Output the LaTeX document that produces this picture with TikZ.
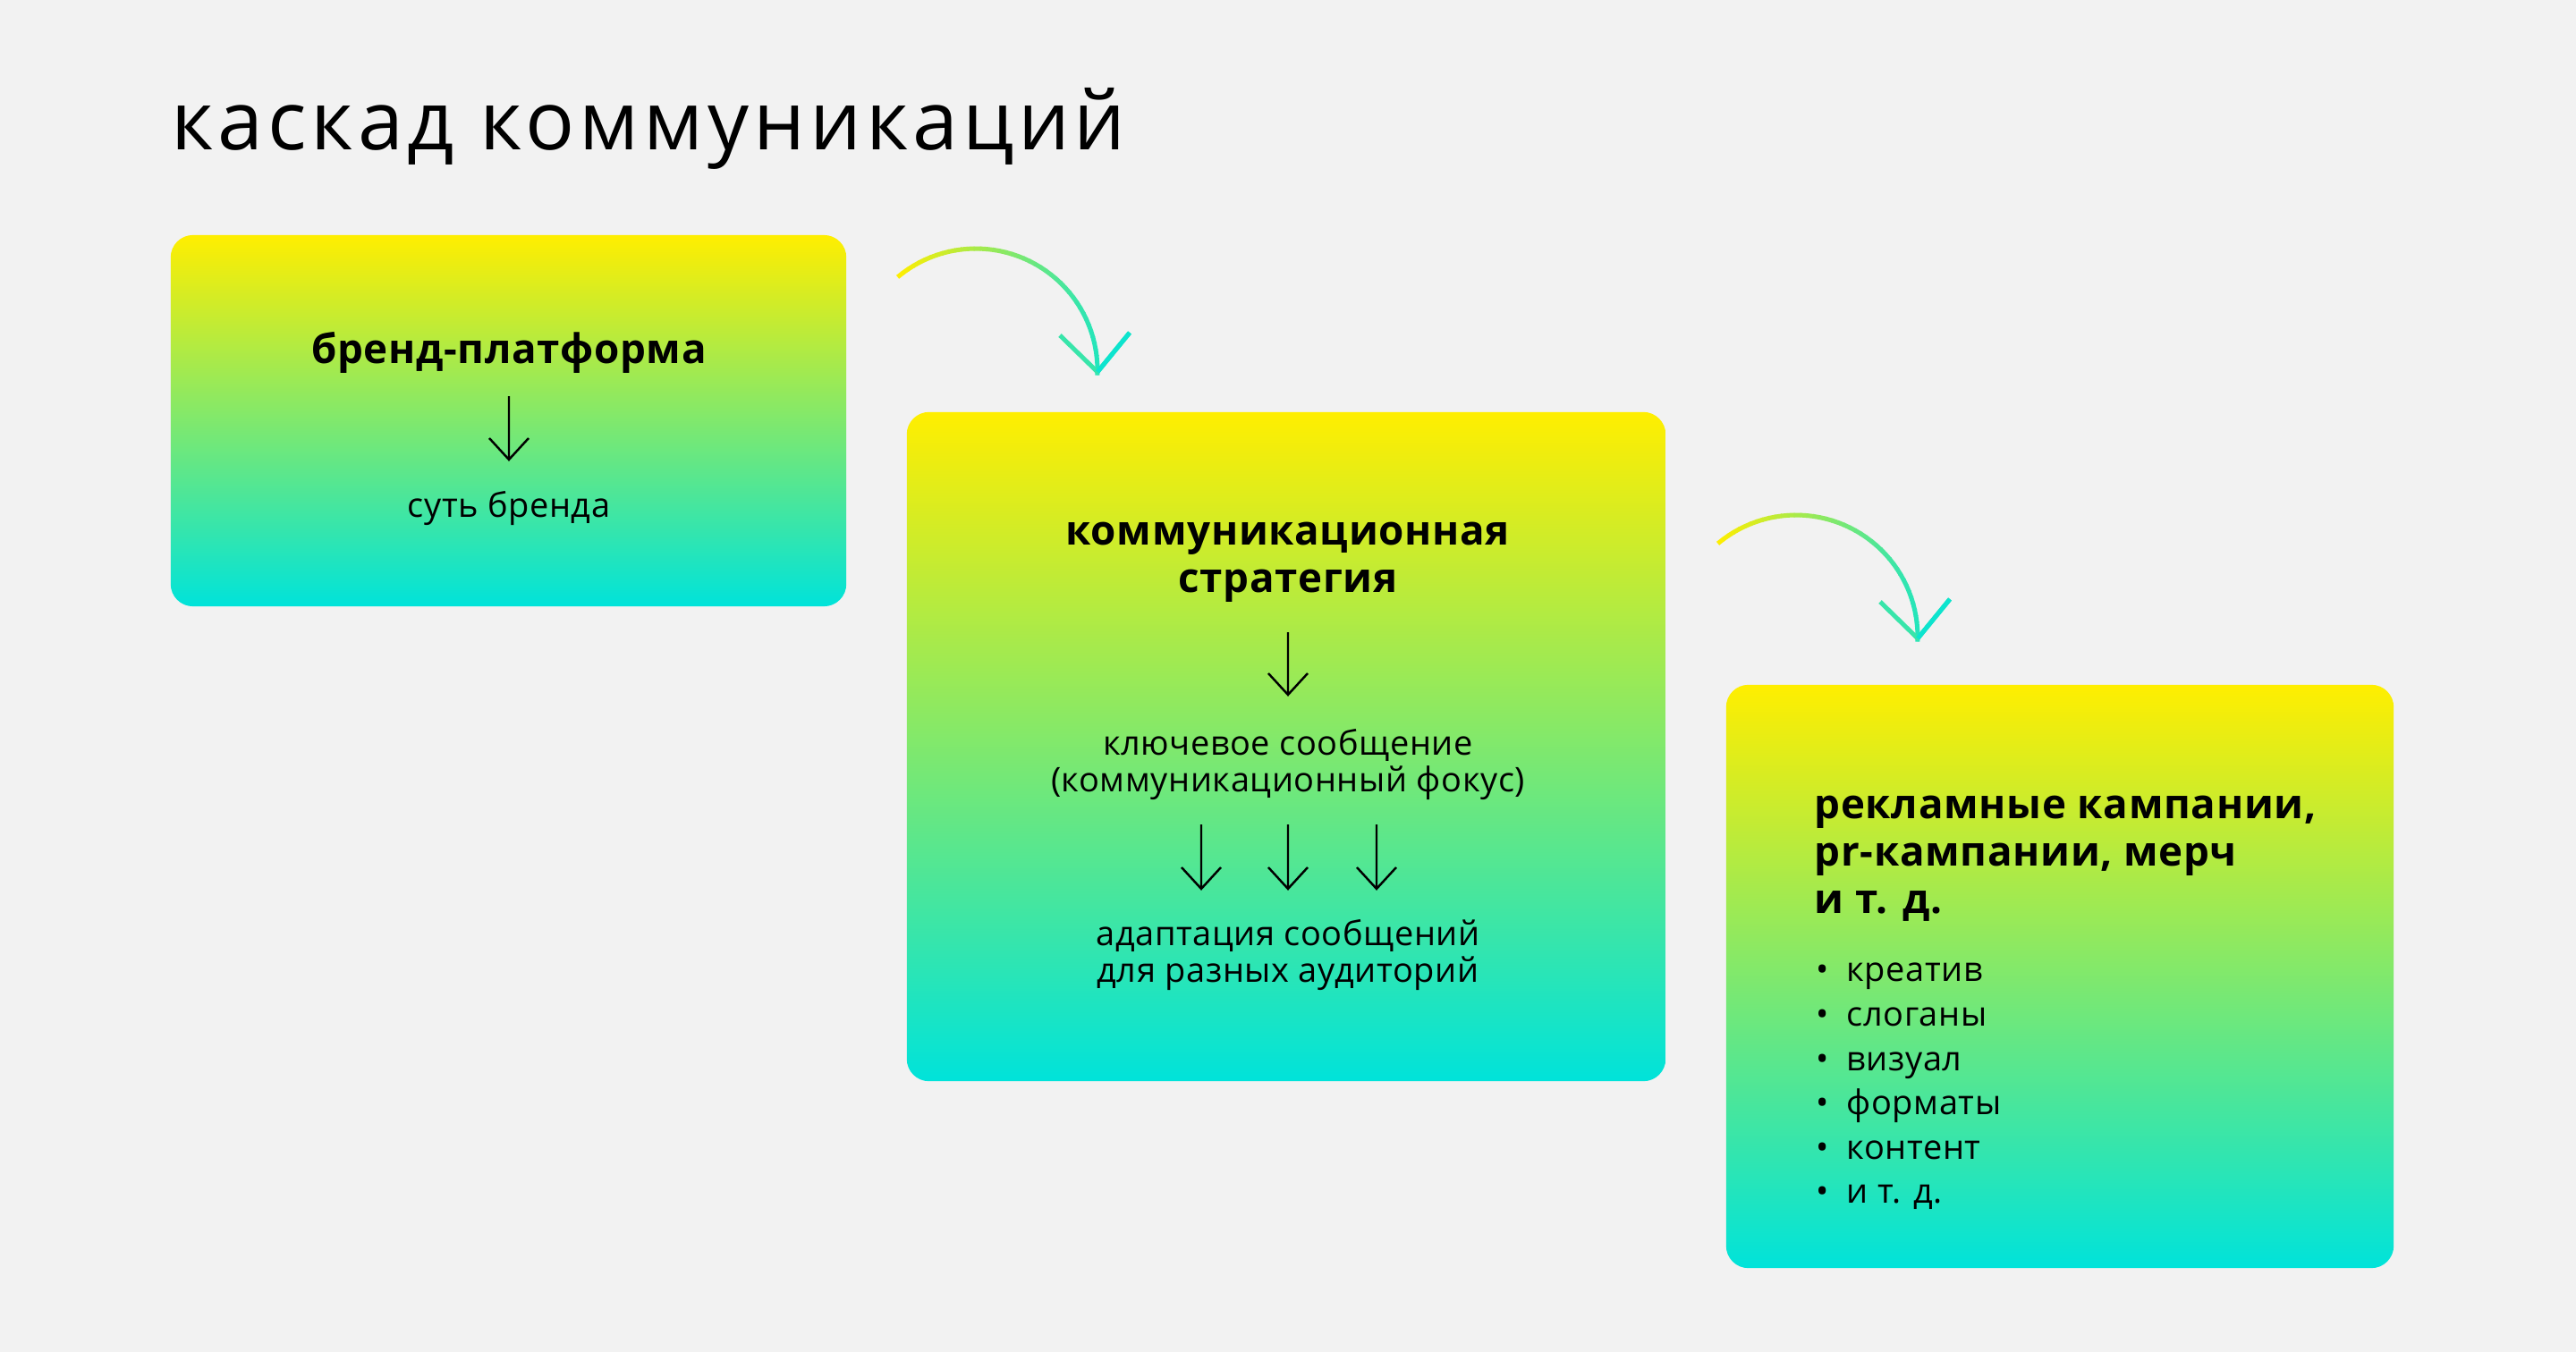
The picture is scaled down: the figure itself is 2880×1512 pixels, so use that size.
\documentclass[tikz,border=0pt]{standalone}
\usepackage{fontspec}
\setmainfont{Open Sans}
\usetikzlibrary{calc}
\definecolor{bg}{HTML}{F2F2F2}
\definecolor{gy}{HTML}{FFEE00}
\definecolor{gc}{HTML}{00E3DA}
\newcommand\gradarc{%
  \foreach \i in {0,...,43}{%
    \pgfmathsetmacro\ta{130-3*\i}%
    \pgfmathsetmacro\tb{\ta-3.4}%
    \pgfmathsetmacro\p{max(0,min(100,(136*cos(\ta-1.5)+87)/2.59))}%
    \draw[gline, color=gc!\p!gy] ({1091+136*cos(\ta)},{414-136*sin(\ta)}) -- ({1091+136*cos(\tb)},{414-136*sin(\tb)});
  }%
  \coordinate (tip) at (1227,416);
  \draw[gline, line join=miter, color=gc!78!gy] ($(tip)+(-42,-41)$) -- (tip) -- ++(36,-44);
  \draw[gline, color=gc!95!gy] (tip) -- ++(36,-44);
}
\begin{document}
\begin{tikzpicture}[x=0.01cm,y=-0.01cm,
  box/.style={rounded corners=0.25cm, top color=gy, bottom color=gc, draw=none, inner sep=0pt, outer sep=0pt},
  head/.style={font=\bfseries\fontsize{13}{15.1}\selectfont\addfontfeature{LetterSpace=1.5}, align=center, inner sep=0pt},
  body/.style={font=\fontsize{10.8}{11.6}\selectfont\addfontfeature{LetterSpace=1.5}, align=center, inner sep=0pt},
  thinarr/.style={line width=0.7pt, black, line join=miter},
  gline/.style={line width=0.05cm, line cap=butt},
]
\useasboundingbox[fill=bg] (0,0) rectangle (2880,1512);
% title
\node[anchor=base west, font=\fontsize{26}{30}\selectfont\addfontfeature{LetterSpace=5.3}, inner sep=0pt] (title) at (191,167) {каскад коммуникаций};
% boxes
\node[box, minimum width=7.55cm, minimum height=4.15cm] (b1) at (568.5,470.5) {};
\node[box, minimum width=8.48cm, minimum height=7.48cm] (b2) at (1438,835) {};
\node[box, minimum width=7.46cm, minimum height=6.52cm] (b3) at (2303,1092) {};
% box 1
\node[head] (h1) at (569,394) {бренд-платформа};
\node[body] (t1) at (569,569) {суть бренда};
\coordinate (s1) at (569,443); \coordinate (e1) at (569,514);
\draw[thinarr] (s1) -- (e1) ++(-22,-24) -- (e1) -- ++(22,-24);
% box 2
\node[head] (h2) at (1440,629) {коммуникационная\\стратегия};
\coordinate (s2) at (1440,707); \coordinate (e2) at (1440,777);
\draw[thinarr] (s2) -- (e2) ++(-22,-24) -- (e2) -- ++(22,-24);
\node[body] (t2) at (1440,855) {ключевое сообщение\\(коммуникационный фокус)};
\foreach \xx/\nm in {1343/a,1440/b,1539/c}{
  \coordinate (s3\nm) at (\xx,922); \coordinate (e3\nm) at (\xx,994);
  \draw[thinarr] (s3\nm) -- (e3\nm) ++(-22,-24) -- (e3\nm) -- ++(22,-24);
}
\node[body] (t3) at (1440,1068) {адаптация сообщений\\для разных аудиторий};
% box 3
\node[head, align=left, anchor=west] (h3) at (2028,960) {рекламные кампании,\\pr-кампании, мерч\\и т. д.};
\node[body, align=left, anchor=west, font=\fontsize{10.8}{14.1}\selectfont\addfontfeature{LetterSpace=1.5}] (l3) at (2030,1215)
  {\makebox[0.34cm][l]{•}креатив\\\makebox[0.34cm][l]{•}слоганы\\\makebox[0.34cm][l]{•}визуал\\\makebox[0.34cm][l]{•}форматы\\\makebox[0.34cm][l]{•}контент\\\makebox[0.34cm][l]{•}и т. д.};
% curved arrows
\begin{scope}
\gradarc
\end{scope}
\begin{scope}[shift={(917,298)}]
\gradarc
\end{scope}
\end{tikzpicture}
\end{document}
